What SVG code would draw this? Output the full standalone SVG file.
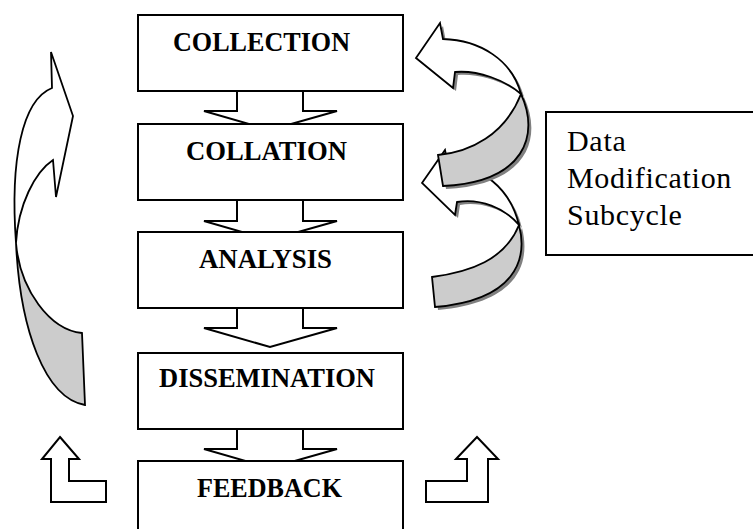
<svg xmlns="http://www.w3.org/2000/svg" width="753" height="529" viewBox="0 0 753 529">
<style>
.box{fill:#fff;stroke:#000;stroke-width:2}
.blk{fill:#fff;stroke:#000;stroke-width:2;stroke-linejoin:miter}
.lbl{font-family:'Liberation Serif','Times New Roman',serif;font-weight:bold;font-size:26.5px;fill:#000}
.txt{font-family:'Liberation Serif','Times New Roman',serif;font-weight:normal;font-size:30px;letter-spacing:0.7px;fill:#000}
.cw{fill:#fff;stroke:#000;stroke-width:1.8;stroke-linejoin:miter}
.cg{fill:#cccccc;stroke:#000;stroke-width:1.8;stroke-linejoin:miter}
.sh{fill:#808080;stroke:none}
</style>
<g id="connectors">
  <polygon class="blk" points="237,85 303,85 303,111 337,111 270,130 204,111 237,111"/>
  <polygon class="blk" points="237,195 303,195 303,221 337,221 270,240 204,221 237,221"/>
  <polygon class="blk" points="237,302 303,302 303,328 337,328 270,347 204,328 237,328"/>
  <polygon class="blk" points="237,423 303,423 303,449 337,449 270,468 204,449 237,449"/>
</g>
<g id="collection"><rect class="box" x="138" y="15" width="265" height="76"/><text class="lbl" x="173" y="51" textLength="177" lengthAdjust="spacingAndGlyphs">COLLECTION</text></g>
<g id="collation"><rect class="box" x="138" y="124" width="265" height="76"/><text class="lbl" x="186" y="160" textLength="161" lengthAdjust="spacingAndGlyphs">COLLATION</text></g>
<g id="analysis"><rect class="box" x="138" y="232" width="265" height="76"/><text class="lbl" x="199" y="268" textLength="133" lengthAdjust="spacingAndGlyphs">ANALYSIS</text></g>
<g id="dissemination"><rect class="box" x="138" y="353" width="265" height="76"/><text class="lbl" x="159" y="387" textLength="216" lengthAdjust="spacingAndGlyphs">DISSEMINATION</text></g>
<g id="feedback"><rect class="box" x="138" y="461" width="265" height="100"/><text class="lbl" x="197" y="497" textLength="145" lengthAdjust="spacingAndGlyphs">FEEDBACK</text></g>
<g id="data-modification-subcycle">
  <rect class="box" x="546" y="112" width="220" height="143"/>
  <text class="txt" x="567" y="151">Data</text>
  <text class="txt" x="567" y="188">Modification</text>
  <text class="txt" x="567" y="225">Subcycle</text>
</g>
<g id="left-curved-arrow">
  <path class="cw" d="M52,88 C22,100 10,160 16,243 C18,205 35,172 53,160 L56,197 L73,116 L51,52 Z"/>
  <path class="cg" d="M16,243 C20,330 45,398 85,405 L82,333 C50,330 20,290 16,243 Z"/>
</g>
<g id="subcycle-arrow-lower">
  <g transform="translate(3,3)">
    <path class="sh" d="M422,183 L445,150 L448,165 C482,166 510,188 519,225 C528,260 515,300 435,307 L432,277 C470,272 505,260 519,225 C505,208 480,198 457,202 L455,215 Z"/>
  </g>
  <path class="cw" d="M422,183 L445,150 L448,165 C482,166 510,188 519,225 C505,208 480,198 457,202 L455,215 Z"/>
  <path class="cg" d="M519,225 C528,260 515,300 435,307 L432,277 C470,272 505,260 519,225 Z"/>
</g>
<g id="subcycle-arrow-upper">
  <g transform="translate(3,3)">
    <path class="sh" d="M416,58 L440,23 L443,39 C480,40 512,60 521,94 C540,135 525,182 443,186 L438,155 C470,152 505,135 521,94 C505,80 478,70 455,72 L453,88 Z"/>
  </g>
  <path class="cw" d="M416,58 L440,23 L443,39 C480,40 512,60 521,94 C505,80 478,70 455,72 L453,88 Z"/>
  <path class="cg" d="M521,94 C540,135 525,182 443,186 L438,155 C470,152 505,135 521,94 Z"/>
</g>
<g id="feedback-arrow-left">
  <polygon class="blk" points="60,437 79,459 69,459 69,481 106,481 106,502 51,502 51,459 42,459"/>
</g>
<g id="feedback-arrow-right">
  <polygon class="blk" points="477,437 498,459 488,459 488,502 426,502 426,481 467,481 467,459 456,459"/>
</g>
</svg>
